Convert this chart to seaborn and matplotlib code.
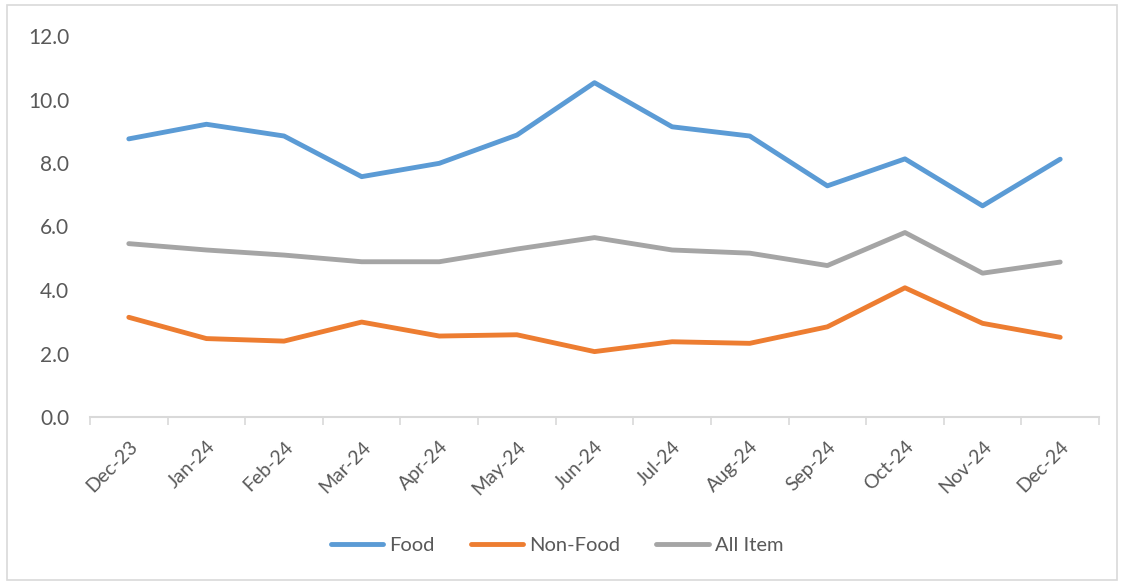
import matplotlib
matplotlib.use("Agg")
import matplotlib.pyplot as plt
import matplotlib.transforms as mtransforms
import seaborn as sns
import pandas as pd
from matplotlib.ticker import FixedLocator, FormatStrFormatter
from matplotlib.patches import Rectangle

months = ["Dec-23", "Jan-24", "Feb-24", "Mar-24", "Apr-24", "May-24", "Jun-24",
          "Jul-24", "Aug-24", "Sep-24", "Oct-24", "Nov-24", "Dec-24"]
food = [8.76, 9.22, 8.85, 7.57, 7.99, 8.88, 10.53, 9.14, 8.85, 7.28, 8.13, 6.65, 8.12]
non_food = [3.14, 2.47, 2.39, 2.99, 2.55, 2.59, 2.06, 2.37, 2.32, 2.84, 4.07, 2.95, 2.51]
all_item = [5.46, 5.26, 5.10, 4.89, 4.89, 5.29, 5.65, 5.26, 5.16, 4.77, 5.81, 4.53, 4.88]

series_names = ["Food", "Non-Food", "All Item"]
colors = ["#5B9BD5", "#ED7D31", "#A5A5A5"]

df = pd.DataFrame({"month": months, "Food": food, "Non-Food": non_food, "All Item": all_item})
df["x"] = range(len(months))
long = df.melt(id_vars=["month", "x"], value_vars=series_names, var_name="series", value_name="value")

sns.set_theme(style="white")
plt.rcParams["font.family"] = ["Lato", "DejaVu Sans"]

fig = plt.figure(figsize=(11.23, 5.83), dpi=100)
ax = fig.add_axes([90 / 1123, (583 - 417) / 583, (1099 - 90) / 1123, (417 - 36) / 583])

sns.lineplot(data=long, x="x", y="value", hue="series", hue_order=series_names,
             palette=colors, linewidth=3.5, ax=ax, legend=True, sort=False)
for ln in ax.get_lines():
    ln.set_solid_joinstyle("round")
    ln.set_solid_capstyle("round")

ax.set_xlim(-0.5, len(months) - 0.5)
ax.set_ylim(0, 12)
ax.yaxis.set_major_locator(FixedLocator([0, 2, 4, 6, 8, 10, 12]))
ax.yaxis.set_major_formatter(FormatStrFormatter("%.1f"))
ax.set_xticks(range(len(months)))
ax.set_xticklabels(months, rotation=45, ha="right", va="top", rotation_mode="anchor")
offset = mtransforms.ScaledTranslation(4 / 100, 0, fig.dpi_scale_trans)
for lbl in ax.get_xticklabels():
    lbl.set_transform(lbl.get_transform() + offset)
ax.xaxis.set_minor_locator(FixedLocator([i - 0.5 for i in range(len(months) + 1)]))
ax.tick_params(axis="x", which="major", length=0, pad=15, labelsize=14, labelcolor="#595959")
ax.tick_params(axis="x", which="minor", length=6, width=1.2, color="#D9D9D9", direction="out", bottom=True)
ax.tick_params(axis="y", length=0, pad=15, labelsize=15, labelcolor="#595959")
ax.set_xlabel("")
ax.set_ylabel("")
for s in ["top", "right", "left"]:
    ax.spines[s].set_visible(False)
ax.spines["bottom"].set_color("#D9D9D9")
ax.spines["bottom"].set_linewidth(1.5)
ax.grid(False)

handles, labels = ax.get_legend_handles_labels()
for h in handles:
    h.set_linewidth(3.5)
    h.set_solid_capstyle("round")
ax.legend(handles, labels, loc="center", bbox_to_anchor=(557 / 1123, (583 - 545) / 583),
          bbox_transform=fig.transFigure, ncol=3, frameon=False, fontsize=14.5,
          handlelength=2.6, handletextpad=0.3, columnspacing=1.8,
          labelcolor="#595959")

fig.patches.append(Rectangle((7 / 1123, 3 / 583), 1110 / 1123, 575 / 583, transform=fig.transFigure,
                             fill=False, edgecolor="#D9D9D9", linewidth=1.2))

fig.savefig("out.png", dpi=100)
